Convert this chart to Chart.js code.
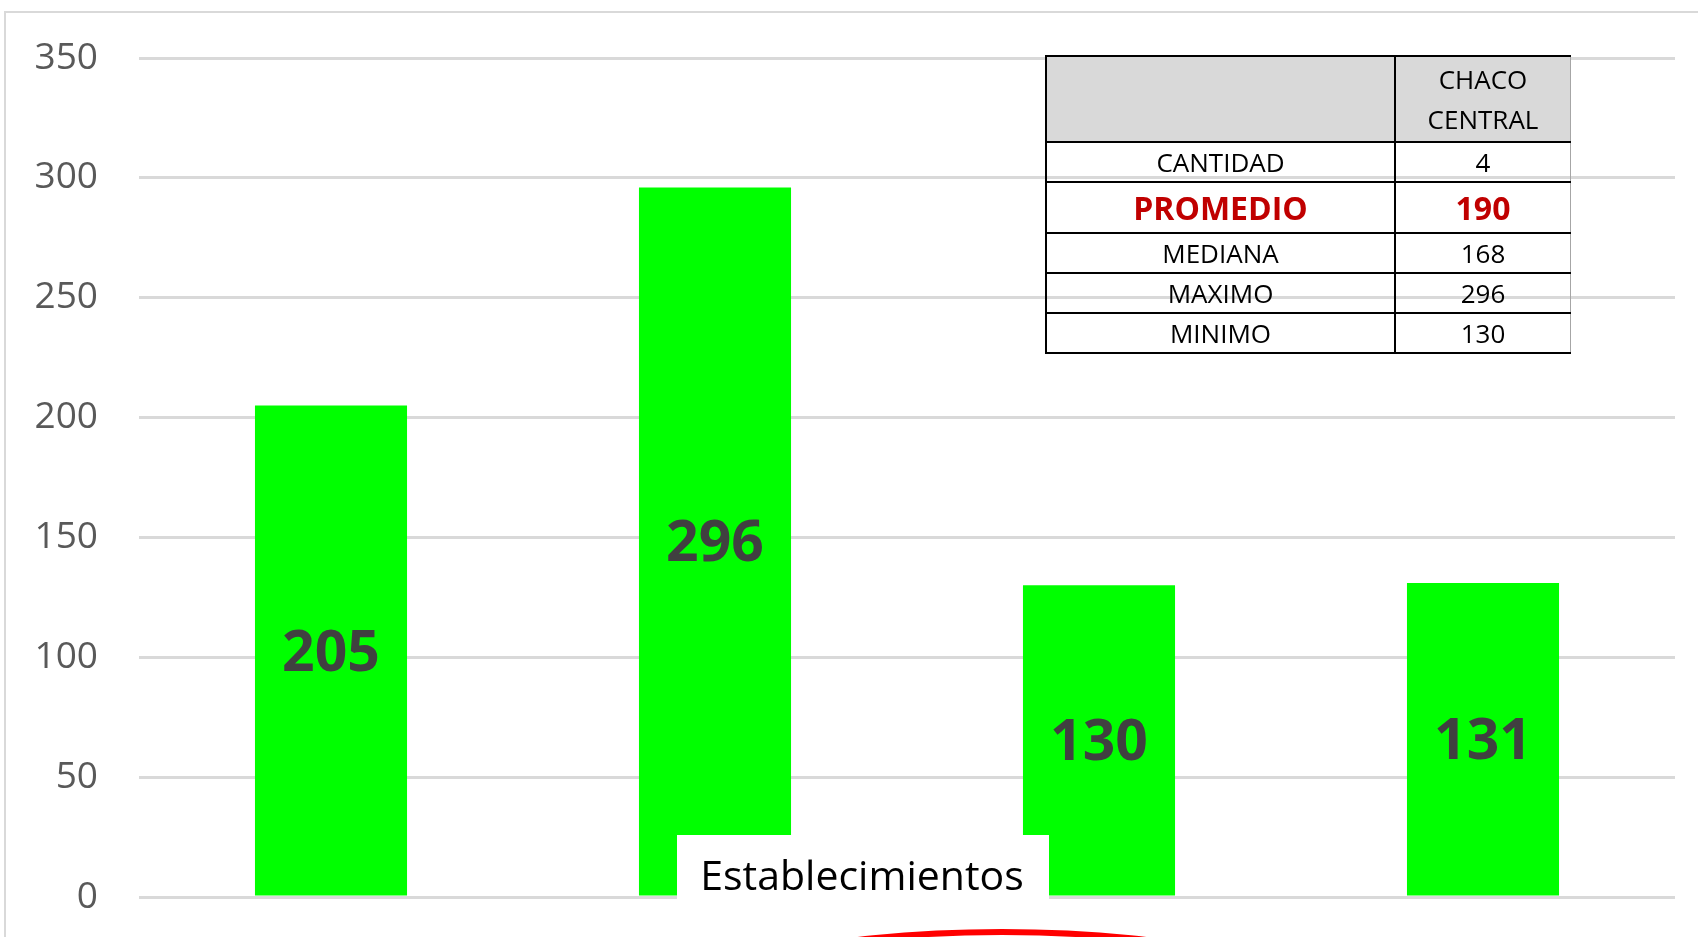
<!DOCTYPE html>
<html>
<head>
<meta charset="utf-8">
<script src="https://cdn.jsdelivr.net/npm/chart.js@4.4.0/dist/chart.umd.min.js"></script>
<style>
  html, body { margin: 0; padding: 0; background: #fff; overflow: hidden; }
  #wrap { position: relative; width: 1698px; height: 937px; overflow: hidden; }
  #frame { position: absolute; left: 4px; top: 11px; width: 1800px; height: 1000px;
           border-left: 2px solid #d9d9d9; border-top: 2px solid #d9d9d9; }
  canvas { position: absolute; left: 0; top: 0; }
  #stats { position: absolute; left: 1045px; top: 55px; width: 526px; border-collapse: collapse;
           font-family: 'Open Sans', sans-serif; color: #000; table-layout: fixed; }
  #stats td { border: 2px solid #000; padding: 0; text-align: center; font-size: 26px; line-height: 38px; }
  #stats td.c2 { border-right: 1px solid #a6a6a6; }
  #stats tr.head td { background: #d9d9d9; height: 84px; line-height: 40px; }
  #stats td.c1 { width: 347px; }
  #stats tr.hl td { color: #c00000; font-weight: bold; font-size: 32px; height: 49px; }
  #stats tr.row td { height: 38px; }
</style>
</head>
<body>
<div id="wrap">
  <div id="frame"></div>
  <canvas id="barChart" width="1698" height="937"></canvas>
  <table id="stats"></table>
</div>
<script>
// Data
const categories = ['1', '2', '3', '4'];
const values = [205, 296, 130, 131];
const yMax = 350;
const yStep = 50;

const statHeader = ['CHACO', 'CENTRAL'];
const statLabels = ['CANTIDAD', 'PROMEDIO', 'MEDIANA', 'MAXIMO', 'MINIMO'];
const statValues = [4, 190, 168, 296, 130];
const axisTitle = 'Establecimientos';

// Build the summary table
const table = document.getElementById('stats');
let html = '<tr class="head"><td class="c1"></td><td class="c2">' + statHeader.join('<br>') + '</td></tr>';
statLabels.forEach((lbl, i) => {
    const cls = lbl === 'PROMEDIO' ? 'hl' : 'row';
    html += '<tr class="' + cls + '"><td class="c1">' + lbl + '</td><td class="c2">' + statValues[i] + '</td></tr>';
});
table.innerHTML = html;

// Value labels in the middle of each bar
const barLabels = {
    id: 'barLabels',
    afterDatasetsDraw(chart) {
        const ctx = chart.ctx;
        const meta = chart.getDatasetMeta(0);
        ctx.save();
        ctx.font = 'bold 57px "Open Sans"';
        ctx.fillStyle = '#404040';
        ctx.textAlign = 'center';
        ctx.textBaseline = 'alphabetic';
        meta.data.forEach((bar, i) => {
            ctx.fillText(values[i], bar.x, (bar.y + bar.base) / 2 + 20);
        });
        ctx.restore();
    }
};

// Axis title box and the red circle mark at the bottom
const overlay = {
    id: 'overlay',
    afterDraw(chart) {
        const ctx = chart.ctx;
        ctx.save();
        ctx.fillStyle = '#fff';
        ctx.fillRect(677, 835, 372, 67);
        ctx.font = '41px "Open Sans"';
        ctx.fillStyle = '#000';
        ctx.textAlign = 'center';
        ctx.textBaseline = 'alphabetic';
        ctx.fillText(axisTitle, 862, 890);

        ctx.strokeStyle = '#ff0000';
        ctx.lineWidth = 6;
        ctx.beginPath();
        ctx.ellipse(1002, 1022, 350, 90, 0, 0, Math.PI * 2);
        ctx.stroke();
        ctx.restore();
    }
};

const ctx = document.getElementById('barChart').getContext('2d');
const barChart = new Chart(ctx, {
    type: 'bar',
    data: {
        labels: categories,
        datasets: [{
            data: values,
            backgroundColor: '#00ff00',
            borderWidth: 0,
            barPercentage: 0.396,
            categoryPercentage: 1
        }]
    },
    options: {
        responsive: false,
        animation: false,
        layout: { padding: { left: 0, right: 23, top: 58, bottom: 40 } },
        plugins: {
            legend: { display: false },
            tooltip: { enabled: false },
            title: { display: false }
        },
        scales: {
            x: { display: false },
            y: {
                min: 0,
                max: yMax,
                afterFit: scale => {
                    scale.width = 139;
                    scale.paddingTop = 0;
                    scale.paddingBottom = 0;
                },
                border: { display: false },
                grid: { color: '#d9d9d9', lineWidth: 3, drawTicks: false },
                ticks: {
                    stepSize: yStep,
                    padding: 41,
                    color: '#595959',
                    font: { family: 'Open Sans', size: 37 }
                }
            }
        }
    },
    plugins: [barLabels, overlay]
});
</script>
</body>
</html>
